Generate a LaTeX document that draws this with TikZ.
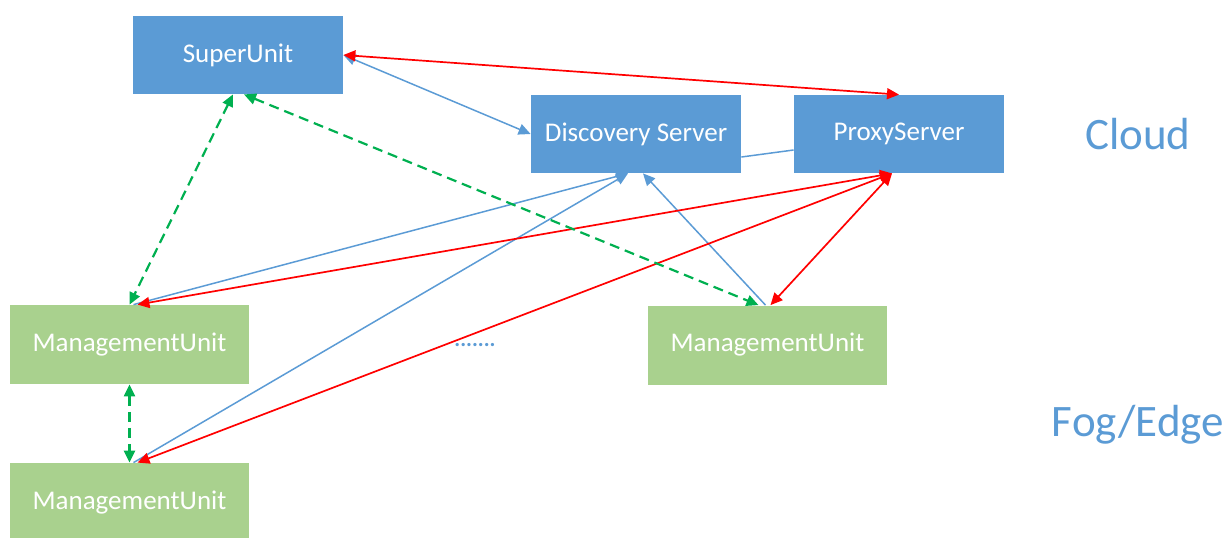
\documentclass[tikz,border=0pt]{standalone}
\usepackage{fontspec}
\setmainfont{Carlito}
\usetikzlibrary{arrows.meta}
\definecolor{officeblue}{HTML}{5B9BD5}
\definecolor{officegreen}{HTML}{A9D18E}
\definecolor{linkgreen}{HTML}{00B050}
\definecolor{linkred}{HTML}{FF0000}

\begin{document}
\begin{tikzpicture}[
      x=0.5pt, y=-0.5pt,
      >={Triangle[length=6pt, width=5.5pt]},
      cloudbox/.style={rectangle, fill=officeblue, text=white, inner sep=0pt,
        minimum width=105pt, minimum height=39pt, font=\fontsize{13.5}{16}\selectfont},
      fogbox/.style={cloudbox, fill=officegreen, minimum width=119.5pt, minimum height=39.5pt},
      layer/.style={text=officeblue, inner sep=0pt, font=\fontsize{22.5}{26}\selectfont},
      bluelink/.style={draw=officeblue, line width=0.75pt},
      redlink/.style={draw=linkred, line width=0.85pt, <->},
      greenlink/.style={draw=linkgreen, line width=1.1pt, dash pattern=on 5pt off 3pt, <->},
    ]
    \useasboundingbox (0,0) rectangle (1228,537);
    \clip (0,0) rectangle (1228,537);

    % cloud layer
    \node[cloudbox] (su) at (238,55) {SuperUnit};
    \node[cloudbox] (ds) at (636,134) {Discovery Server};
    \node[cloudbox] (ps) at (899,134) {ProxyServer};

    % fog/edge layer
    \node[fogbox] (mul) at (129.5,344.5) {ManagementUnit};
    \node[fogbox] (mur) at (767.5,345) {ManagementUnit};
    \node[fogbox] (mub) at (129.5,502.5) {ManagementUnit};
    \node[text=officeblue, inner sep=0pt, font=\fontsize{11}{13}\bfseries] (more) at (475,345) {.......};

    \node[layer] (cloud) at (1138,134) {Cloud};
    \node[layer] (fog) at (1138,425) {Fog/Edge};

    % links
    \draw[bluelink, <->] (su.east) -- (ds.west);
    \draw[bluelink] ([yshift=-11.5pt]ds.east) -- ([yshift=-8pt]ps.west);
    \draw[bluelink, ->] ([xshift=2pt]mul.north) -- ([xshift=-4pt]ds.south);
    \draw[bluelink, ->] ([xshift=2pt]mub.north) -- ([xshift=-4pt]ds.south);
    \draw[bluelink, ->] ([xshift=-1pt]mur.north) -- ([xshift=3.5pt]ds.south);

    \draw[redlink] (su.east) -- (ps.north);
    \draw[redlink] ([xshift=4pt]mul.north) -- ([xshift=-3.5pt]ps.south);
    \draw[redlink] ([xshift=4pt]mub.north) -- ([xshift=-3.5pt]ps.south);
    \draw[redlink] ([xshift=1.5pt]mur.north) -- ([xshift=-3.5pt]ps.south);

    \draw[greenlink] ([xshift=-2.5pt]su.south) -- (mul.north);
    \draw[greenlink] ([xshift=3pt]su.south) -- ([xshift=-4.5pt]mur.north);
    \draw[greenlink] (mul.south) -- (mub.north);
  \end{tikzpicture}
\end{document}
